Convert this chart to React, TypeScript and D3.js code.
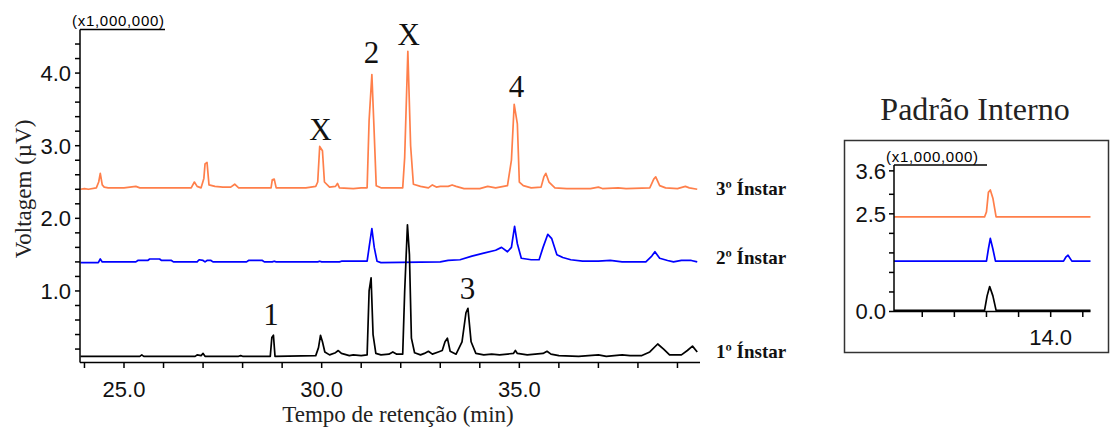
import * as d3 from "d3"

// ---- main chromatogram data: [retention time (min), signal (x1,000,000 µV)]
const instar3: [number, number][] = [
  [23.9, 2.4], [24.0, 2.41], [24.1, 2.4], [24.3, 2.42], [24.36, 2.5], [24.4, 2.62], [24.45, 2.46], [24.5, 2.43],
  [24.6, 2.42], [25.0, 2.42], [25.3, 2.44], [25.4, 2.42], [26.0, 2.42], [26.5, 2.42], [26.7, 2.42], [26.78, 2.5],
  [26.85, 2.44], [26.95, 2.42], [27.02, 2.55], [27.05, 2.75], [27.1, 2.77], [27.15, 2.46], [27.3, 2.44], [27.5, 2.43],
  [27.7, 2.43], [27.8, 2.47], [27.9, 2.42], [28.2, 2.42], [28.5, 2.42], [28.72, 2.42], [28.75, 2.53], [28.8, 2.54],
  [28.85, 2.42], [29.3, 2.42], [29.6, 2.42], [29.85, 2.44], [29.9, 2.5], [29.95, 2.99], [30.02, 2.93], [30.07, 2.5],
  [30.2, 2.43], [30.35, 2.44], [30.4, 2.48], [30.45, 2.42], [30.8, 2.41], [31.0, 2.42], [31.15, 2.42], [31.2, 3.35],
  [31.27, 3.98], [31.32, 3.3], [31.38, 2.45], [31.5, 2.42], [32.05, 2.42], [32.1, 2.84], [32.18, 4.3], [32.25, 3.0],
  [32.32, 2.47], [32.5, 2.44], [32.7, 2.42], [32.8, 2.46], [32.9, 2.43], [33.0, 2.44], [33.2, 2.44], [33.3, 2.46],
  [33.4, 2.44], [33.6, 2.41], [34.0, 2.41], [34.2, 2.44], [34.4, 2.42], [34.7, 2.45], [34.8, 2.8], [34.87, 3.57],
  [34.95, 3.3], [35.0, 2.5], [35.1, 2.45], [35.3, 2.42], [35.55, 2.43], [35.62, 2.57], [35.67, 2.62], [35.75, 2.5],
  [35.9, 2.42], [36.2, 2.41], [36.8, 2.41], [37.0, 2.43], [37.1, 2.41], [37.5, 2.42], [37.7, 2.41], [38.3, 2.42],
  [38.4, 2.54], [38.45, 2.57], [38.55, 2.45], [38.7, 2.42], [39.0, 2.41], [39.2, 2.44], [39.3, 2.42], [39.5, 2.4],
]

const instar2: [number, number][] = [
  [23.9, 1.39], [24.35, 1.39], [24.4, 1.44], [24.45, 1.4], [25.3, 1.4], [25.35, 1.42], [25.6, 1.42], [25.65, 1.44],
  [25.9, 1.44], [25.95, 1.42], [26.2, 1.42], [26.25, 1.4], [26.85, 1.4], [26.9, 1.43], [27.0, 1.42], [27.05, 1.4],
  [27.1, 1.42], [27.2, 1.42], [27.25, 1.4], [28.1, 1.4], [28.15, 1.42], [28.5, 1.42], [28.55, 1.4], [28.75, 1.4],
  [28.8, 1.41], [28.85, 1.4], [29.9, 1.4], [29.95, 1.41], [30.0, 1.4], [30.45, 1.4], [30.5, 1.41], [31.15, 1.41],
  [31.2, 1.6], [31.27, 1.86], [31.33, 1.6], [31.4, 1.41], [31.5, 1.39], [33.0, 1.4], [33.2, 1.42], [33.5, 1.43],
  [33.8, 1.48], [34.1, 1.52], [34.4, 1.56], [34.55, 1.6], [34.7, 1.54], [34.8, 1.6], [34.88, 1.89], [34.95, 1.65],
  [35.05, 1.45], [35.3, 1.43], [35.5, 1.43], [35.6, 1.6], [35.72, 1.78], [35.82, 1.72], [35.95, 1.5], [36.1, 1.46],
  [36.3, 1.43], [36.6, 1.41], [37.0, 1.41], [37.3, 1.42], [37.6, 1.4], [38.2, 1.4], [38.35, 1.48], [38.43, 1.54],
  [38.55, 1.45], [38.75, 1.42], [38.9, 1.4], [39.1, 1.42], [39.35, 1.42], [39.5, 1.4],
]

const instar1: [number, number][] = [
  [23.9, 0.1], [25.4, 0.1], [25.45, 0.12], [25.5, 0.1], [26.8, 0.1], [26.85, 0.12], [26.95, 0.11], [27.0, 0.14],
  [27.05, 0.1], [27.9, 0.1], [27.95, 0.11], [28.0, 0.1], [28.7, 0.1], [28.74, 0.36], [28.78, 0.39], [28.82, 0.1],
  [29.85, 0.11], [29.92, 0.22], [29.97, 0.39], [30.02, 0.3], [30.08, 0.16], [30.2, 0.12], [30.35, 0.15], [30.42, 0.18],
  [30.5, 0.14], [30.7, 0.11], [30.8, 0.12], [31.0, 0.11], [31.15, 0.12], [31.2, 1.0], [31.25, 1.18], [31.3, 0.4],
  [31.37, 0.14], [31.5, 0.12], [31.7, 0.13], [31.8, 0.16], [31.9, 0.13], [32.05, 0.13], [32.1, 1.0], [32.17, 1.91],
  [32.22, 1.5], [32.27, 0.35], [32.35, 0.15], [32.5, 0.12], [32.6, 0.14], [32.7, 0.17], [32.8, 0.13], [32.95, 0.16],
  [33.05, 0.18], [33.12, 0.3], [33.18, 0.35], [33.25, 0.17], [33.4, 0.13], [33.55, 0.3], [33.65, 0.7], [33.7, 0.76],
  [33.78, 0.3], [33.9, 0.14], [34.1, 0.12], [34.3, 0.13], [34.5, 0.12], [34.85, 0.14], [34.9, 0.18], [34.95, 0.14],
  [35.2, 0.12], [35.6, 0.14], [35.7, 0.17], [35.8, 0.13], [36.0, 0.11], [36.5, 0.1], [37.0, 0.12], [37.2, 0.1],
  [37.6, 0.12], [37.8, 0.11], [38.1, 0.11], [38.3, 0.16], [38.5, 0.27], [38.65, 0.2], [38.8, 0.12], [39.1, 0.12],
  [39.25, 0.18], [39.38, 0.24], [39.5, 0.16],
]

// peak annotations: [time, label height, text]
const peakLabels: [number, number, string][] = [
  [28.72, 0.53, "1"], [29.97, 3.08, "X"], [31.26, 4.14, "2"], [32.2, 4.385, "X"], [34.93, 3.67, "4"], [33.69, 0.89, "3"],
]

const seriesNames = ["3º Ínstar", "2º Ínstar", "1º Ínstar"]
const xMajorTicks = [25, 30, 35]
const xMinorTicks = [24, 26, 27, 28, 29, 31, 32, 33, 34, 36, 37, 38, 39]
const yMajorTicks = [1, 2, 3, 4]
const yMinorTicks = [0.2, 0.4, 0.6, 0.8, 1.2, 1.4, 1.6, 1.8, 2.2, 2.4, 2.6, 2.8, 3.2, 3.4, 3.6, 3.8, 4.2, 4.4]

// ---- internal standard inset
const insetInstar3: [number, number][] = [
  [11.56, 2.42], [12.97, 2.42], [13.0, 2.55], [13.03, 3.05], [13.06, 3.11], [13.1, 2.9], [13.15, 2.42], [14.62, 2.42],
]
const insetInstar2: [number, number][] = [
  [11.56, 1.29], [13.0, 1.29], [13.03, 1.6], [13.06, 1.87], [13.1, 1.6], [13.14, 1.29], [14.2, 1.29], [14.24, 1.4],
  [14.27, 1.44], [14.33, 1.29], [14.62, 1.29],
]
const insetInstar1: [number, number][] = [
  [11.56, 0.03], [12.97, 0.03], [13.01, 0.4], [13.05, 0.64], [13.1, 0.4], [13.15, 0.03], [14.62, 0.03],
]
const insetXTicks = [12.0, 12.5, 13.0, 13.5, 14.0, 14.5]
const insetXLabels = [14.0]
const insetYTicks = [0.5, 1.0, 1.5, 2.0, 3.0]
const insetYLabels = [0.0, 2.5, 3.6]

const colors = ["#ff7f4a", "#0000ff", "#000000"]
const serif = "'Liberation Serif', 'Times New Roman', serif"
const sans = "'Liberation Sans', Arial, sans-serif"

const x = d3.scaleLinear().domain([23.887, 39.57]).range([80, 700])
const y = d3.scaleLinear().domain([0.015, 4.6]).range([362.5, 29.5])
const line = d3.line<[number, number]>().x((d) => x(d[0])).y((d) => y(d[1]))

const ix = d3.scaleLinear().domain([11.56, 14.62]).range([894, 1090.5])
const iy = d3.scaleLinear().domain([0, 3.75]).range([311.5, 165])
const iline = d3.line<[number, number]>().x((d) => ix(d[0])).y((d) => iy(d[1]))

const labelY = [195, 264, 358]

export default function App() {
  const series = [instar3, instar2, instar1]
  const inset = [insetInstar3, insetInstar2, insetInstar1]
  return (
    <svg width={1112} height={434} style={{ position: "absolute", left: 0, top: 0, background: "#fff" }}>
      {/* main traces */}
      {series.map((s, i) => (
        <path key={i} d={line(s) ?? ""} fill="none" stroke={colors[i]} strokeWidth={1.7} strokeLinejoin="round" />
      ))}

      {/* axes */}
      <g stroke="#000" strokeWidth={1.5}>
        <line x1={x.range()[0]} x2={x.range()[0]} y1={y.range()[1]} y2={y.range()[0]} />
        <line x1={x.range()[0]} x2={x.range()[1]} y1={y.range()[0]} y2={y.range()[0]} />
        <line x1={x.range()[0]} x2={165} y1={y.range()[1]} y2={y.range()[1]} />
        {yMinorTicks.concat(yMajorTicks).map((v) => (
          <line key={v} x1={75} x2={80} y1={y(v)} y2={y(v)} />
        ))}
        {xMinorTicks.concat(xMajorTicks).map((t) => (
          <line key={t} x1={x(t)} x2={x(t)} y1={362.5} y2={368} />
        ))}
      </g>
      <g fontFamily={sans} fontSize={22} fill="#111">
        {yMajorTicks.map((v) => (
          <text key={v} x={71} y={y(v)} dy="0.36em" textAnchor="end">{v.toFixed(1)}</text>
        ))}
        {xMajorTicks.map((t) => (
          <text key={t} x={x(t)} y={396.5} textAnchor="middle">{t.toFixed(1)}</text>
        ))}
      </g>
      <text x={72} y={26} fontFamily={sans} fontSize={15} textLength={92}>(x1,000,000)</text>

      <text transform="translate(31,189) rotate(-90)" textAnchor="middle" fontFamily={serif} fontSize={23} fill="#222">
        Voltagem (µV)
      </text>
      <text x={398} y={422} textAnchor="middle" fontFamily={serif} fontSize={23} fill="#222">
        Tempo de retenção (min)
      </text>

      {peakLabels.map(([t, v, s], i) => (
        <text key={i} x={x(t)} y={y(v)} textAnchor="middle" fontFamily={serif} fontSize={31} fill="#111">{s}</text>
      ))}

      {seriesNames.map((n, i) => (
        <text key={n} x={716} y={labelY[i]} fontFamily={serif} fontSize={19} fontWeight="bold" fill="#111">{n}</text>
      ))}

      {/* inset: internal standard */}
      <text x={975} y={120} textAnchor="middle" fontFamily={serif} fontSize={32} fill="#222">Padrão Interno</text>
      <rect x={844.5} y={140.5} width={264} height={212} fill="none" stroke="#333" strokeWidth={1.5} />
      {inset.map((s, i) => (
        <path key={i} d={iline(s) ?? ""} fill="none" stroke={colors[i]} strokeWidth={1.7} strokeLinejoin="round" />
      ))}
      <g stroke="#000" strokeWidth={1.5}>
        <line x1={ix.range()[0]} x2={ix.range()[0]} y1={iy.range()[1]} y2={iy.range()[0]} />
        <line x1={ix.range()[0]} x2={ix.range()[1]} y1={iy.range()[0]} y2={iy.range()[0]} />
        <line x1={ix.range()[0]} x2={987} y1={iy.range()[1]} y2={iy.range()[1]} />
        {insetYTicks.concat(insetYLabels).map((v) => (
          <line key={v} x1={889} x2={894} y1={iy(v)} y2={iy(v)} />
        ))}
        {insetXTicks.map((t) => (
          <line key={t} x1={ix(t)} x2={ix(t)} y1={311.5} y2={317} />
        ))}
      </g>
      <g fontFamily={sans} fontSize={22} fill="#111">
        {insetYLabels.map((v) => (
          <text key={v} x={886} y={iy(v)} dy="0.36em" textAnchor="end">{v.toFixed(1)}</text>
        ))}
        {insetXLabels.map((t) => (
          <text key={t} x={ix(t)} y={345} textAnchor="middle">{t.toFixed(1)}</text>
        ))}
      </g>
      <text x={886} y={162} fontFamily={sans} fontSize={15} textLength={92}>(x1,000,000)</text>
    </svg>
  )
}
